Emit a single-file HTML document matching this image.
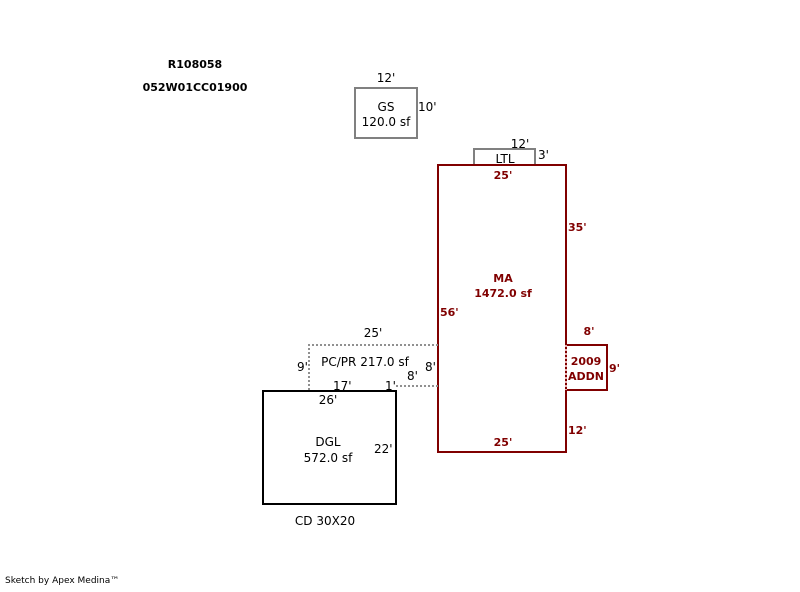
<!DOCTYPE html>
<html><head><style>
body{margin:0;background:#fff;}
svg text{font-family:"DejaVu Sans",Verdana,sans-serif;font-size:12px;}
.b{font-weight:bold;font-size:11px;}
.r{fill:#800000;font-weight:bold;font-size:11px;}
</style></head><body>
<svg width="800" height="587" xmlns="http://www.w3.org/2000/svg">
<text x="195" y="68" text-anchor="middle" class="b">R108058</text>
<text x="195" y="91" text-anchor="middle" class="b">052W01CC01900</text>
<!-- GS -->
<rect x="355" y="88" width="62" height="50" fill="none" stroke="#808080" stroke-width="2"/>
<text x="386" y="82" text-anchor="middle">12'</text>
<text x="418" y="111">10'</text>
<text x="386" y="111" text-anchor="middle">GS</text>
<text x="386" y="126" text-anchor="middle">120.0 sf</text>
<!-- LTL -->
<rect x="474" y="149" width="61" height="16" fill="none" stroke="#808080" stroke-width="2"/>
<text x="520" y="148" text-anchor="middle">12'</text>
<text x="538" y="159">3'</text>
<text x="505" y="163" text-anchor="middle">LTL</text>
<!-- MA -->
<rect x="438" y="165" width="128" height="287" fill="none" stroke="#800000" stroke-width="2"/>
<text x="503" y="179" text-anchor="middle" class="r">25'</text>
<text x="568" y="231" class="r">35'</text>
<text x="503" y="282" text-anchor="middle" class="r">MA</text>
<text x="503" y="297" text-anchor="middle" class="r">1472.0 sf</text>
<text x="440" y="316" class="r">56'</text>
<text x="503" y="446" text-anchor="middle" class="r">25'</text>
<text x="568" y="434" class="r">12'</text>
<!-- ADDN -->
<polyline points="566,345 607,345 607,390 566,390" fill="none" stroke="#800000" stroke-width="2"/>
<line x1="566" y1="345" x2="566" y2="390" stroke="#e8b0b0" stroke-width="2" stroke-dasharray="2,2"/>
<text x="589" y="335" text-anchor="middle" class="r">8'</text>
<text x="609" y="372" class="r">9'</text>
<text x="586" y="365" text-anchor="middle" class="r">2009</text>
<text x="586" y="380" text-anchor="middle" class="r">ADDN</text>
<!-- PC/PR -->
<polyline points="309,390 309,345 438,345" fill="none" stroke="#909090" stroke-width="2" stroke-dasharray="2,2"/>
<line x1="396" y1="386" x2="438" y2="386" stroke="#909090" stroke-width="2" stroke-dasharray="2,2"/>
<text x="373" y="337" text-anchor="middle">25'</text>
<text x="297" y="371">9'</text>
<text x="365" y="366" text-anchor="middle">PC/PR 217.0 sf</text>
<text x="425" y="371">8'</text>
<text x="407" y="380">8'</text>
<text x="333" y="390">17'</text>
<text x="385" y="390">1'</text>
<!-- DGL -->
<rect x="263" y="391" width="133" height="113" fill="none" stroke="#000" stroke-width="2"/>
<text x="328" y="404" text-anchor="middle">26'</text>
<text x="328" y="446" text-anchor="middle">DGL</text>
<text x="328" y="462" text-anchor="middle">572.0 sf</text>
<text x="374" y="453">22'</text>
<text x="325" y="525" text-anchor="middle">CD 30X20</text>
<text x="5" y="583" style="font-size:9px">Sketch by Apex Medina™</text>
</svg>
</body></html>
